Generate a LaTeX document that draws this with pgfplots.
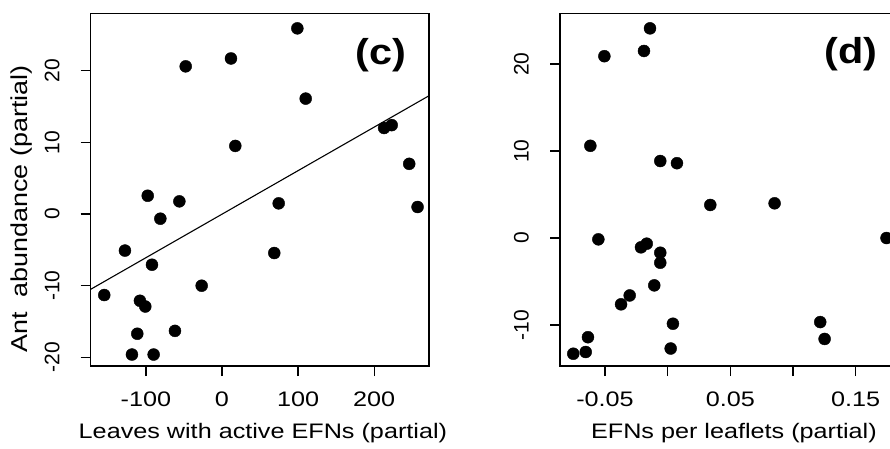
\documentclass[border=0pt]{standalone}
\usepackage{graphicx}
\usepackage{pgfplots}
\pgfplotsset{compat=1.18}
\usepackage{fontspec}
\setmainfont{Liberation Sans}
\newcommand\xs[1]{\scalebox{1.2}[1]{#1}}

\tikzset{
  xlab/.style={font=\fontsize{21}{25}\selectfont, anchor=center, inner sep=0pt},
  plab/.style={font=\fontsize{36}{40}\selectfont\bfseries, xscale=1.15},
}
\pgfplotsset{
  rstyle/.style={
    scale only axis,
    width=338.3pt, height=352.7pt,
    axis line style={line width=1.3pt},
    every tick/.style={line width=1.3pt, black},
    xtick pos=lower, ytick pos=left,
    tick align=outside,
    major tick length=10pt,
    minor tick num=0,
    clip=false,
    /pgf/number format/assume math mode=true,
    xticklabel style={font=\fontsize{21}{25}\selectfont, anchor=north, inner sep=0pt},
    yticklabel style={font=\fontsize{21}{25}\selectfont, rotate=90, anchor=south, inner sep=0pt},
    xticklabel shift=16pt,
    yticklabel shift=21pt,
    ylabel style={anchor=center, font=\fontsize{23}{27}\selectfont},
  },
  dots/.style={only marks, mark=*, mark size=6pt, mark options={fill=black, draw=black}},
}

\begin{document}
\begin{tikzpicture}
\useasboundingbox (0,0) rectangle (890pt,448pt);
\clip (0,0) rectangle (890pt,448pt);

% ---------------- panel (c)
\begin{axis}[rstyle,
  at={(90.7pt,82pt)}, anchor=south west,
  xmin=-172.5, xmax=272, ymin=-21.2, ymax=28.0,
  xtick={-100,0,100,200}, xticklabels={\xs{-100},\xs{0},\xs{100},\xs{200}},
  ytick={-20,-10,0,10,20}, yticklabels={-20,-10,0,10,20},
  ylabel={\scalebox{1.17}[1]{Ant\ \ abundance (partial)}},
  ylabel style={at={(axis description cs:-0.203,0.445)}},
]
\addplot[dots] coordinates {
(99,25.9) (11.8,21.7) (-47.7,20.6) (110,16.1) (213,12.0) (223,12.4)
(17.5,9.5) (246,7.0) (-97.6,2.55) (-56,1.77) (74.5,1.49) (257,0.98)
(-81,-0.65) (-127.5,-5.1) (68.7,-5.44) (-92,-7.07) (-26.7,-10.0)
(-154.7,-11.3) (-107.8,-12.1) (-100.8,-12.9) (-111.3,-16.7) (-61.8,-16.3)
(-118.3,-19.6) (-89.8,-19.6)
};
\addplot[black, line width=1.1pt] coordinates {(-172.5,-10.5) (272,16.5)};
\node[plab] at (axis cs:208.7,22.1) {(c)};
\node[xlab] at (rel axis cs:0.509,-0.19) {\xs{Leaves with active EFNs (partial)}};
\end{axis}

% ---------------- panel (d)
\begin{axis}[rstyle,
  at={(560pt,82pt)}, anchor=south west,
  xmin=-0.0859, xmax=0.184, ymin=-14.71, ymax=25.83,
  xtick={-0.05,0,0.05,0.1,0.15}, xticklabels={\xs{-0.05},,\xs{0.05},,\xs{0.15}},
  ytick={-10,0,10,20}, yticklabels={-10,0,10,20},
]
\addplot[dots] coordinates {
(-0.0141,24.1) (-0.0189,21.5) (-0.0505,20.9) (-0.0617,10.6) (-0.0059,8.85)
(0.0074,8.6) (0.034,3.8) (0.0853,3.99) (0.1746,0.0) (-0.0553,-0.15)
(-0.0213,-1.07) (-0.0167,-0.65) (-0.0059,-1.69) (-0.0059,-2.84) (-0.0107,-5.44)
(-0.0303,-6.6) (-0.0372,-7.62) (0.0042,-9.85) (0.1217,-9.66) (0.1252,-11.6)
(-0.0636,-11.4) (0.0024,-12.7) (-0.0654,-13.1) (-0.0753,-13.3)
};
\node[plab] at (axis cs:0.146,21.1) {(d)};
\node[xlab] at (rel axis cs:0.514,-0.19) {\xs{EFNs per leaflets (partial)}};
\end{axis}
\end{tikzpicture}
\end{document}
